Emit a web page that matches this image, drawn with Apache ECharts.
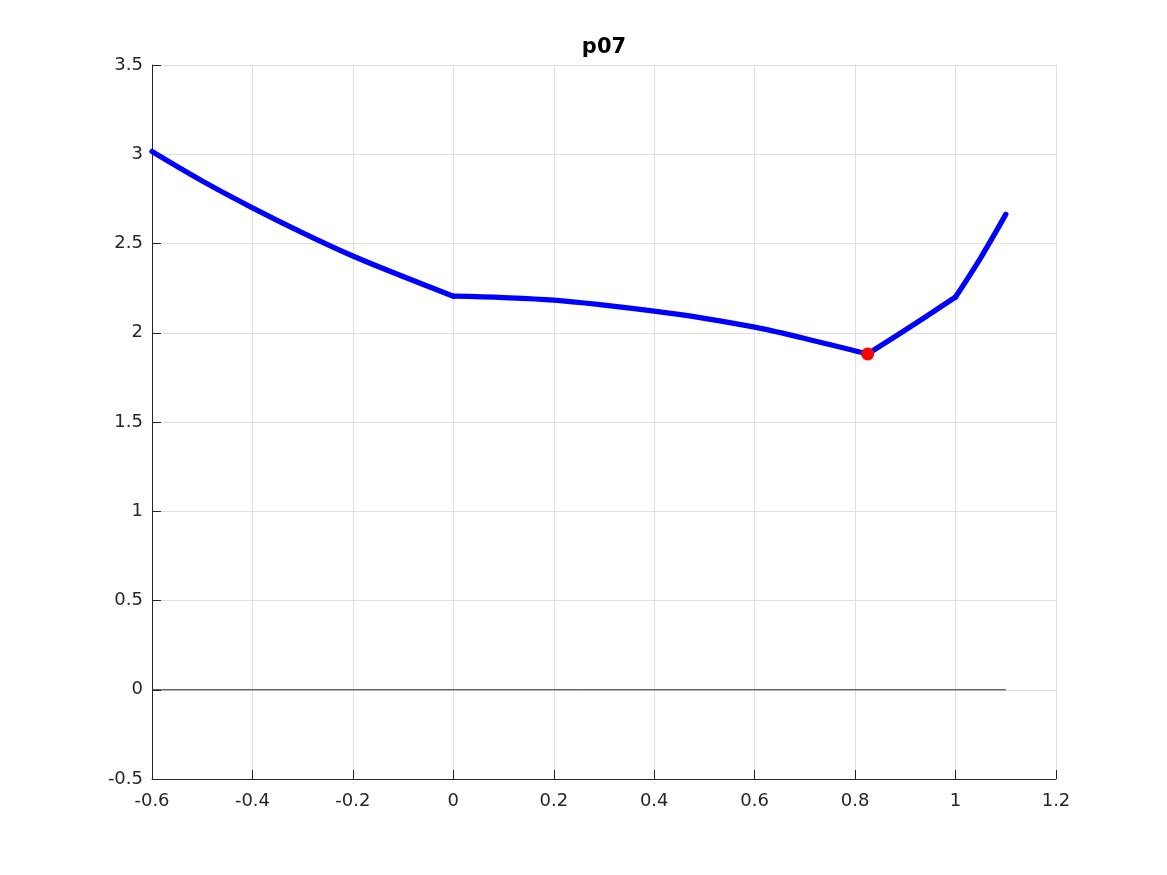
<!DOCTYPE html>
<html>
<head>
<meta charset="utf-8">
<script src="https://cdn.jsdelivr.net/npm/echarts@6/dist/echarts.min.js"></script>
<style>html,body{margin:0;padding:0;background:#fff;}#c{width:1167px;height:875px;}</style>
</head>
<body>
<div id="c"></div>
<script>
// Data (curve split at its kinks)
const seg1X = [-0.6, -0.5, -0.4, -0.3, -0.2, -0.1, 0.0];
const seg1Y = [3.015, 2.85, 2.70, 2.56, 2.43, 2.315, 2.205];
const seg2X = [0.0, 0.1, 0.2, 0.3, 0.4, 0.5, 0.6, 0.7, 0.825];
const seg2Y = [2.205, 2.197, 2.183, 2.155, 2.121, 2.081, 2.031, 1.968, 1.881];
const seg3X = [0.825, 0.9, 1.0];
const seg3Y = [1.881, 2.015, 2.2];
const seg4X = [1.0, 1.05, 1.1];
const seg4Y = [2.2, 2.42, 2.663];
const markerX = [0.825];
const markerY = [1.881];
const zeroLineX = [-0.6, 1.1];
const zeroLineY = [0, 0];
const xTicks = [-0.6, -0.4, -0.2, 0, 0.2, 0.4, 0.6, 0.8, 1, 1.2];
const yTicks = [-0.5, 0, 0.5, 1, 1.5, 2, 2.5, 3, 3.5];
const titleText = 'p07';

const zip = (a, b) => a.map((v, i) => [v, b[i]]);
const fmt = v => String(parseFloat(v.toFixed(2)));
const font = 'DejaVu Sans';
const axisColor = '#262626';

const curveSeries = [[seg1X, seg1Y], [seg2X, seg2Y], [seg3X, seg3Y], [seg4X, seg4Y]].map(([xs, ys]) => ({
  type: 'line', data: zip(xs, ys), showSymbol: false, smooth: 0.35,
  lineStyle: {color: '#0000ff', width: 5.3, cap: 'round', join: 'round'}, z: 3
}));

const chart = echarts.init(document.getElementById('c'), null, {renderer: 'canvas'});
chart.setOption({
  animation: false,
  backgroundColor: '#ffffff',
  title: {
    text: titleText, left: 604, top: 37, textAlign: 'center', padding: 0,
    textStyle: {fontFamily: font, fontWeight: 'bold', fontSize: 21, color: '#000'}
  },
  grid: {left: 152, right: 111, top: 65, bottom: 96, containLabel: false, outerBoundsMode: 'none'},
  xAxis: {
    type: 'value', min: xTicks[0], max: xTicks[xTicks.length - 1], interval: 0.2,
    axisLine: {show: true, onZero: false, lineStyle: {color: axisColor, width: 1}},
    axisTick: {show: true, inside: true, length: 9, lineStyle: {color: axisColor}},
    axisLabel: {fontFamily: font, fontSize: 18, color: axisColor, margin: 13, formatter: fmt},
    splitLine: {show: true, lineStyle: {color: '#dfdfdf', width: 1}}
  },
  yAxis: {
    type: 'value', min: yTicks[0], max: yTicks[yTicks.length - 1], interval: 0.5,
    axisLine: {show: true, onZero: false, lineStyle: {color: axisColor, width: 1}},
    axisTick: {show: true, inside: true, length: 9, lineStyle: {color: axisColor}},
    axisLabel: {fontFamily: font, fontSize: 18, color: axisColor, margin: 9, formatter: fmt},
    splitLine: {show: true, lineStyle: {color: '#dfdfdf', width: 1}}
  },
  series: [
    {
      type: 'line', data: zip(zeroLineX, zeroLineY), showSymbol: false, silent: true,
      lineStyle: {color: '#333333', width: 1}, z: 2
    },
    ...curveSeries,
    {
      type: 'scatter', data: zip(markerX, markerY), symbolSize: 13,
      itemStyle: {color: '#ff0000', opacity: 1}, z: 4
    }
  ]
});
</script>
</body>
</html>
